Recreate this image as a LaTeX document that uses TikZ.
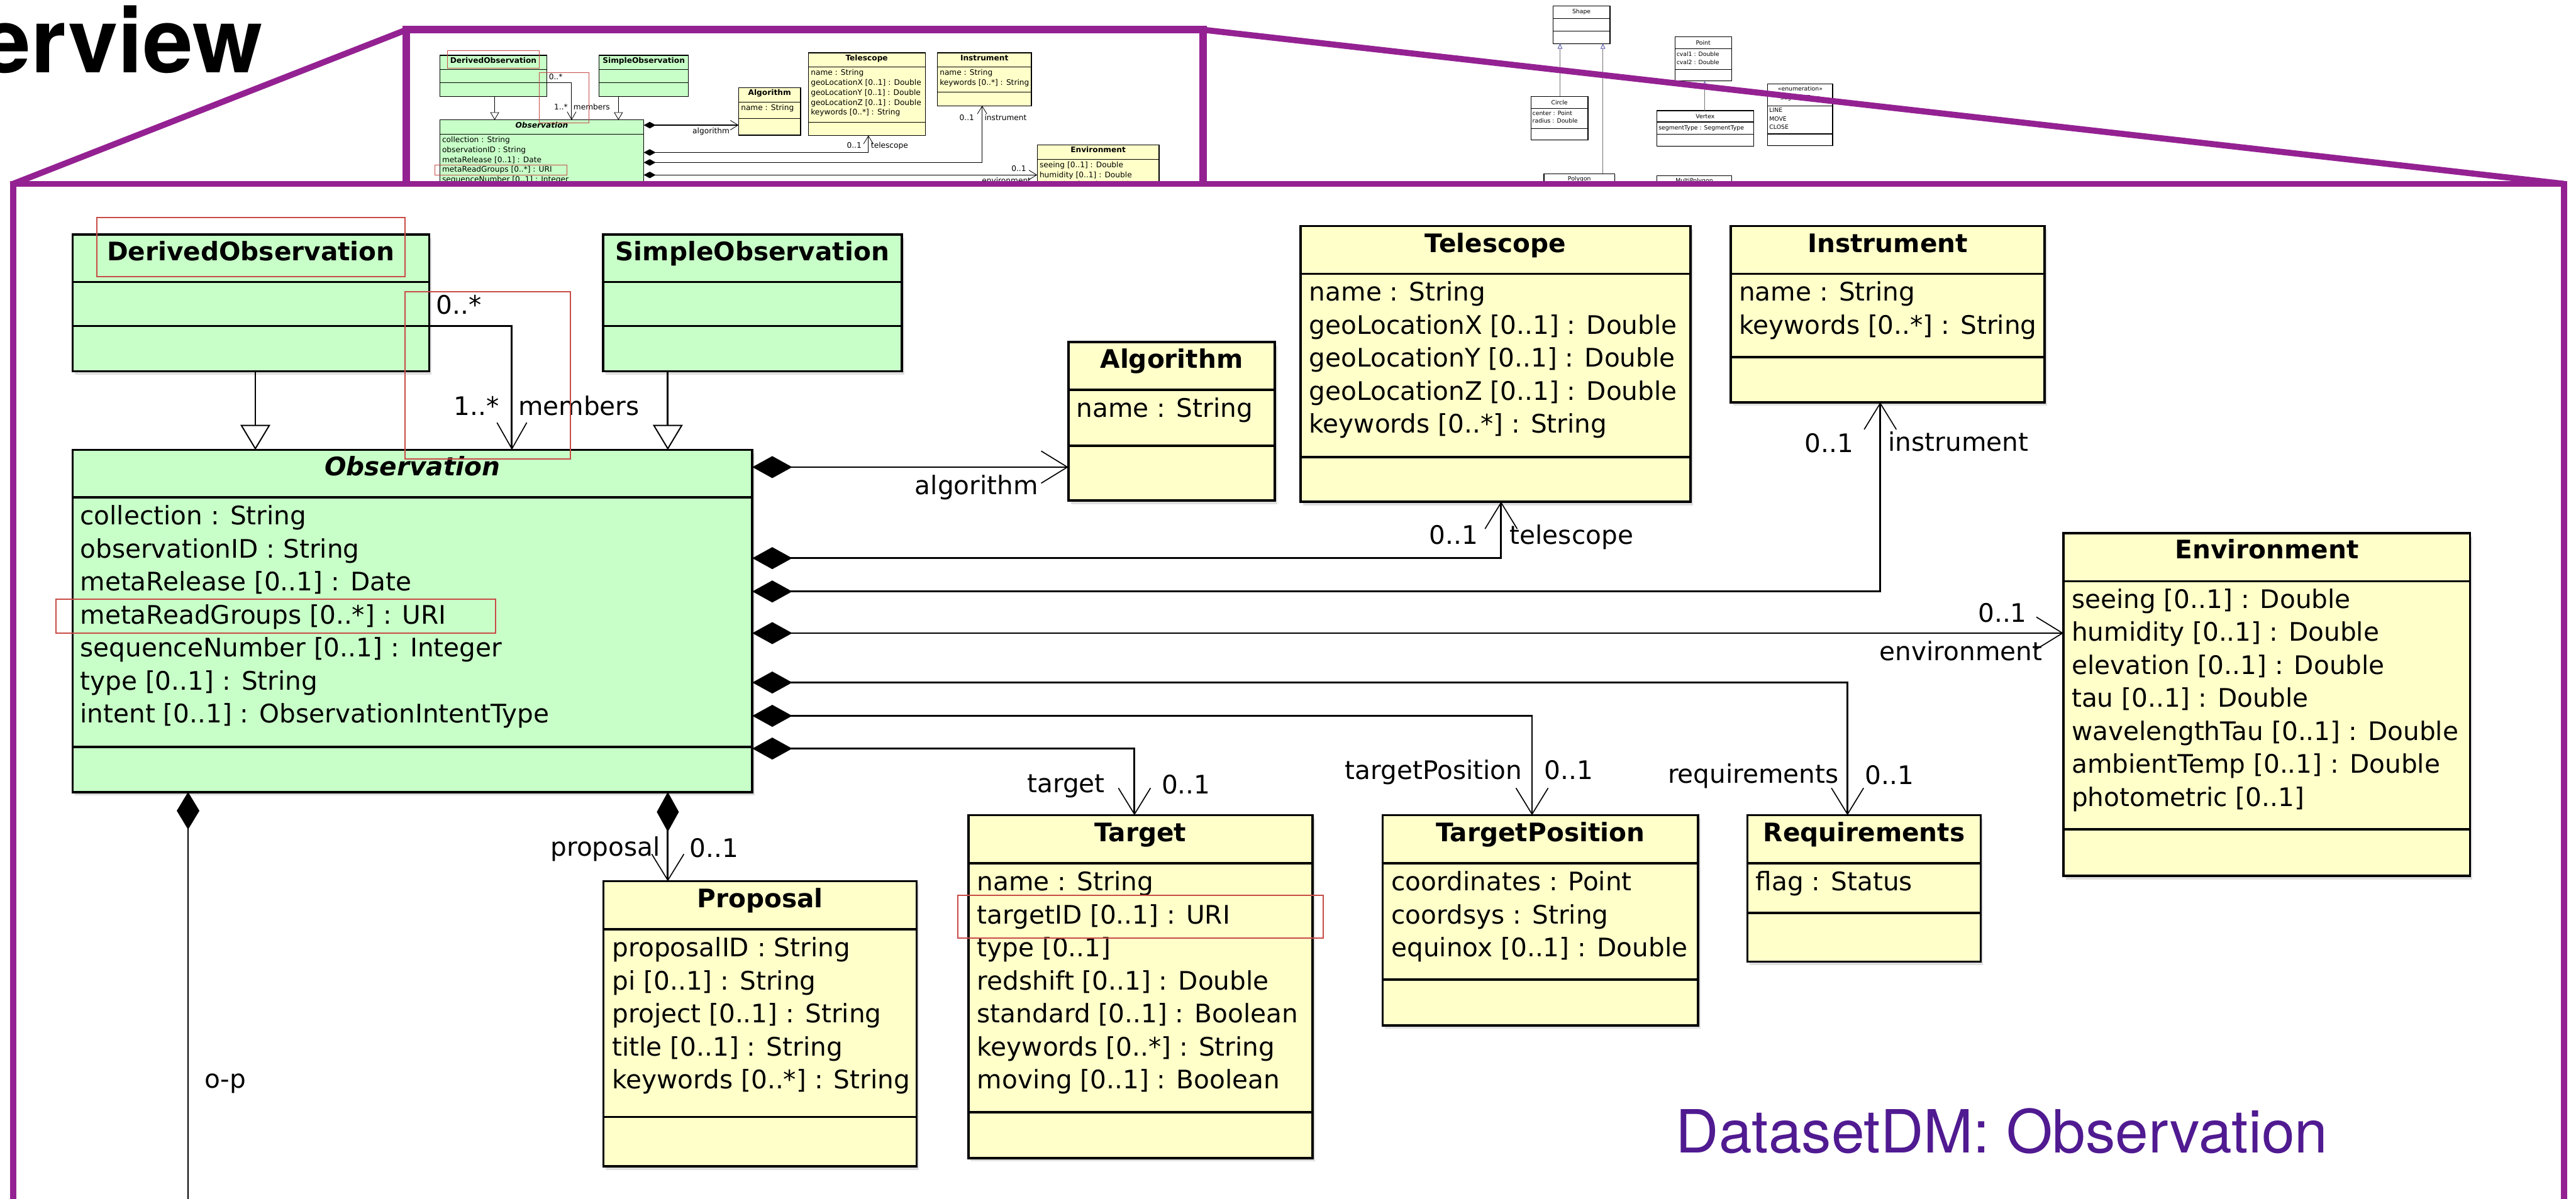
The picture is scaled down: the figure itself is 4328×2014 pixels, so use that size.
\documentclass[tikz,border=0pt]{standalone}
\usepackage{fontspec}
\setmainfont{DejaVu Sans}
\newfontfamily\helv{TeX Gyre Heros}
\usetikzlibrary{arrows.meta,shadows}
\definecolor{umlgreen}{RGB}{200,255,200}
\definecolor{umlyellow}{RGB}{255,255,202}
\definecolor{slidepurple}{RGB}{148,33,146}
\definecolor{captionpurple}{RGB}{80,26,145}
\definecolor{hilite}{RGB}{200,75,70}
\definecolor{genblue}{RGB}{95,95,175}
\newcommand\umlsize{\fontsize{12.2}{14.6}\selectfont}
\newcommand\tinysize{\fontsize{2.8}{3.4}\selectfont}

\newcommand\umlclass[8]{%
  \node[classbox, fill=#6, anchor=north west,
    minimum width={(#4-#2)*0.01cm}, minimum height={(#5-#3)*0.01cm}] (#1) at (#2,#3) {};
  \draw[sepline] (#1.west |- 0,#7) -- (#1.east |- 0,#7);
  \draw[sepline] (#1.west |- 0,#8) -- (#1.east |- 0,#8);
}
\newcommand\smallclass[7]{%
  \node[smallbox, anchor=north west,
    minimum width={(#4-#2)*0.01cm}, minimum height={(#5-#3)*0.01cm}] (#1) at (#2,#3) {};
  \draw[smallsep] (#1.west |- 0,#6) -- (#1.east |- 0,#6);
  \draw[smallsep] (#1.west |- 0,#7) -- (#1.east |- 0,#7);
}
\newcommand\umltitle[4]{\node[umltitle, anchor=base] (#1) at (#2,#3) {#4};}
\newcommand\umlattrs[4]{%
  \foreach \atxt [count=\attrno] in {#4}
    \node[umlattr, anchor=base west] (#1\attrno) at (#2,{#3+(\attrno-1)*55.5}) {\atxt};
}

\newcommand\drawdiagram[1]{%
  % classes
  \umlclass{#1der}{122}{394}{721}{624}{umlgreen}{474}{548}
  \umltitle{#1dert}{421.5}{438}{DerivedObservation}
  \umlclass{#1sim}{1013}{394}{1515}{624}{umlgreen}{474}{548}
  \umltitle{#1simt}{1264}{438}{SimpleObservation}
  \umlclass{#1obs}{122}{756}{1264}{1331}{umlgreen}{836}{1255}
  \node[umltitle, font=\umlsize\bfseries\itshape, anchor=base] (#1obst) at (693,799) {Observation};
  \umlattrs{#1obsa}{134}{882}{collection : String, observationID : String, metaRelease [0..1] : Date, metaReadGroups [0..*] : URI, sequenceNumber [0..1] : Integer, type [0..1] : String, intent [0..1] : ObservationIntentType}
  \umlclass{#1alg}{1795}{575}{2142}{841}{umlyellow}{655}{749}
  \umltitle{#1algt}{1968.5}{619}{Algorithm}
  \umlattrs{#1alga}{1808}{701}{name : String}
  \umlclass{#1tel}{2185}{380}{2840}{843}{umlyellow}{460}{768}
  \umltitle{#1telt}{2512.5}{424}{Telescope}
  \umlattrs{#1tela}{2199}{506}{name : String, geoLocationX [0..1] : Double, geoLocationY [0..1] : Double, geoLocationZ [0..1] : Double, keywords [0..*] : String}
  \umlclass{#1ins}{2908}{380}{3435}{676}{umlyellow}{460}{600}
  \umltitle{#1inst}{3171.5}{424}{Instrument}
  \umlattrs{#1insa}{2921}{506}{name : String, keywords [0..*] : String}
  \umlclass{#1env}{3467}{896}{4150}{1472}{umlyellow}{977}{1394}
  \umltitle{#1envt}{3808.5}{939}{Environment}
  \umlattrs{#1enva}{3480}{1022}{seeing [0..1] : Double, humidity [0..1] : Double, elevation [0..1] : Double, tau [0..1] : Double, wavelengthTau [0..1] : Double, ambientTemp [0..1] : Double, photometric [0..1]}
  \umlclass{#1prop}{1014}{1481}{1540}{1960}{umlyellow}{1562}{1877}
  \umltitle{#1propt}{1277}{1525}{Proposal}
  \umlattrs{#1propa}{1028}{1608}{proposalID : String, pi [0..1] : String, project [0..1] : String, title [0..1] : String, keywords [0..*] : String}
  \umlclass{#1tgt}{1627}{1370}{2205}{1946}{umlyellow}{1451}{1869}
  \umltitle{#1tgtt}{1916}{1414}{Target}
  \umlattrs{#1tgta}{1641}{1497}{name : String, targetID [0..1] : URI, type [0..1], redshift [0..1] : Double, standard [0..1] : Boolean, keywords [0..*] : String, moving [0..1] : Boolean}
  \umlclass{#1tpos}{2323}{1370}{2853}{1723}{umlyellow}{1451}{1646}
  \umltitle{#1tpost}{2588}{1414}{TargetPosition}
  \umlattrs{#1tposa}{2337}{1497}{coordinates : Point, coordsys : String, equinox [0..1] : Double}
  \umlclass{#1req}{2936}{1370}{3328}{1616}{umlyellow}{1451}{1534}
  \umltitle{#1reqt}{3132}{1414}{Requirements}
  \umlattrs{#1reqa}{2949}{1497}{flag : Status}
  % connectors
  \coordinate (#1opend) at (316,2100);
  \draw[comp] (#1obs.east |- 0,785) -- (#1alg.west |- 0,785);
  \draw[comp] (#1obs.east |- 0,938) -| (#1tel.south -| 2522,0);
  \draw[comp] (#1obs.east |- 0,994) -| (#1ins.south -| 3159,0);
  \draw[comp] (#1obs.east |- 0,1064) -- (#1env.west |- 0,1064);
  \draw[comp] (#1obs.east |- 0,1147) -| (#1req.north -| 3104,0);
  \draw[comp] (#1obs.east |- 0,1203) -| (#1tpos.north -| 2574,0);
  \draw[comp] (#1obs.east |- 0,1258) -| (#1tgt.north -| 1906,0);
  \draw[comp] (#1obs.south -| 1122,0) -- (#1prop.north -| 1122,0);
  \draw[compplain] (#1obs.south -| 316,0) -- (#1opend);
  \draw[assoc] (#1der.east |- 0,548) -| (#1obs.north -| 860,0);
  \draw[gen] (#1der.south -| 429,0) -- (#1obs.north -| 429,0);
  \draw[gen] (#1sim.south -| 1122,0) -- (#1obs.north -| 1122,0);
  % labels
  \node[lbl, anchor=base east] (#1lalg) at (1745,831) {algorithm};
  \node[lbl, anchor=base east] (#1ltela) at (2484,915) {0..1};
  \node[lbl, anchor=base west] (#1ltelb) at (2536,915) {telescope};
  \node[lbl, anchor=base east] (#1linsa) at (3115,760) {0..1};
  \node[lbl, anchor=base west] (#1linsb) at (3172,758) {instrument};
  \node[lbl, anchor=base east] (#1lenva) at (3406,1045) {0..1};
  \node[lbl, anchor=base east] (#1lenvb) at (3432,1110) {environment};
  \node[lbl, anchor=base east] (#1lreqa) at (3090,1316) {requirements};
  \node[lbl, anchor=base west] (#1lreqb) at (3133,1318) {0..1};
  \node[lbl, anchor=base east] (#1ltpa) at (2558,1310) {targetPosition};
  \node[lbl, anchor=base west] (#1ltpb) at (2594,1310) {0..1};
  \node[lbl, anchor=base east] (#1ltga) at (1857,1332) {target};
  \node[lbl, anchor=base west] (#1ltgb) at (1951,1334) {0..1};
  \node[lbl, anchor=base east] (#1lpra) at (1110,1439) {proposal};
  \node[lbl, anchor=base west] (#1lprb) at (1158,1441) {0..1};
  \node[lbl, anchor=base west] (#1lop) at (343,1828) {o-p};
  \node[lbl, anchor=base west] (#1lmema) at (732,528) {0..*};
  \node[lbl, anchor=base east] (#1lmemb) at (839,698) {1..*};
  \node[lbl, anchor=base west] (#1lmemc) at (870,698) {members};
  % highlights
  \draw[hl] (163,366) rectangle (680,465);
  \draw[hl] (680,490) rectangle (958,771);
  \draw[hl] (94,1007) rectangle (833,1064);
  \draw[hl] (1609,1505) rectangle (2223,1576);
}

\begin{document}
\begin{tikzpicture}[x=0.01cm, y=-0.01cm,
  classbox/.style={draw=black, line width=1.1pt, inner sep=0pt, outer sep=0pt,
    drop shadow={shadow xshift=0.04cm, shadow yshift=-0.06cm, opacity=0.25}},
  sepline/.style={line width=1.1pt},
  umltitle/.style={inner sep=0pt, font=\umlsize\bfseries},
  umlattr/.style={inner sep=0pt, font=\umlsize},
  lbl/.style={inner sep=0pt, font=\umlsize},
  comp/.style={line width=0.85pt, {Diamond[length=6.7mm,width=3.7mm]}-{Straight Barb[length=4.4mm,width=5.4mm,line width=0.5pt]}},
  compplain/.style={line width=0.85pt, {Diamond[length=6.3mm,width=3.8mm]}-},
  assoc/.style={line width=0.85pt, -{Straight Barb[length=4.4mm,width=5mm,line width=0.5pt]}},
  gen/.style={line width=0.85pt, -{Triangle[length=4.2mm,width=5mm,fill=white,line width=0.6pt]}},
  hl/.style={draw=hilite, line width=0.6pt},
  frameline/.style={draw=slidepurple, line width=2.9pt},
  thumbline/.style={draw=slidepurple, line width=3.6pt},
  smallbox/.style={draw=black, line width=0.35pt, fill=white, inner sep=0pt, outer sep=0pt,
    drop shadow={shadow xshift=0.01cm, shadow yshift=-0.015cm, opacity=0.25}},
  smallsep/.style={line width=0.35pt},
  tinytext/.style={inner sep=0pt, font=\tinysize},
  tinygen/.style={draw=black!55, line width=0.3pt, -{Triangle[open, length=0.9mm, width=0.8mm, color=genblue, line width=0.3pt]}}
]
\useasboundingbox[fill=white] (0,0) rectangle (4328,2014);

% ---- top band: thumbnail of the diagram and neighbouring classes
\begin{scope}
  \clip (0,0) rectangle (4328,305);
  \begin{scope}
    \clip (683,0) rectangle (2021,305);
    \begin{scope}[shift={(702.4,-25.2)}, scale=0.3, transform shape,
      classbox/.style={draw=black, line width=0.35pt, inner sep=0pt, outer sep=0pt},
      sepline/.style={line width=0.35pt},
      comp/.style={line width=0.35pt, {Diamond[length=2mm,width=1.1mm]}-{Straight Barb[length=1.3mm,width=1.6mm,line width=0.25pt]}},
      compplain/.style={line width=0.35pt, {Diamond[length=1.9mm,width=1.1mm]}-},
      assoc/.style={line width=0.3pt, -{Straight Barb[length=1.3mm,width=1.5mm,line width=0.25pt]}},
      gen/.style={line width=0.3pt, -{Triangle[length=1.3mm,width=1.5mm,fill=white,line width=0.25pt]}},
      hl/.style={draw=hilite, line width=0.3pt}]
      \drawdiagram{t}
    \end{scope}
  \end{scope}
  \smallclass{shp}{2609}{10}{2705}{73}{31}{52}
  \node[tinytext, anchor=base] (shpt) at (2657,23) {Shape};
  \smallclass{crc}{2572}{162}{2668}{235}{182}{216}
  \node[tinytext, anchor=base] (crct) at (2620,176) {Circle};
  \node[tinytext, anchor=base west] (crca) at (2574,194) {center : Point};
  \node[tinytext, anchor=base west] (crcb) at (2574,207) {radius : Double};
  \smallclass{pnt}{2814}{62}{2909}{136}{82}{117}
  \node[tinytext, anchor=base] (pntt) at (2861.5,76) {Point};
  \node[tinytext, anchor=base west] (pnta) at (2816,95) {cval1 : Double};
  \node[tinytext, anchor=base west] (pntb) at (2816,108) {cval2 : Double};
  \smallclass{vtx}{2784}{186}{2946}{246}{205}{226}
  \node[tinytext, anchor=base] (vtxt) at (2865,199) {Vertex};
  \node[tinytext, anchor=base west] (vtxa) at (2786,218) {segmentType : SegmentType};
  \smallclass{enm}{2970}{141}{3079}{245}{178}{225}
  \node[tinytext, anchor=base] (enmt) at (3024.5,153) {<<enumeration>>};
  \node[tinytext, anchor=base] (enmn) at (3024.5,167) {SegmentType};
  \node[tinytext, anchor=base west] (enma) at (2972,189) {LINE};
  \node[tinytext, anchor=base west] (enmb) at (2972,203) {MOVE};
  \node[tinytext, anchor=base west] (enmc) at (2972,217) {CLOSE};
  \smallclass{ply}{2594}{292}{2713}{360}{330}{345}
  \node[tinytext, anchor=base] (plyt) at (2653.5,304) {Polygon};
  \smallclass{mpl}{2784}{295}{2909}{360}{330}{345}
  \node[tinytext, anchor=base] (mplt) at (2846.5,307) {MultiPolygon};
  \draw[tinygen] (crc.north -| 2621,0) -- (shp.south -| 2621,0);
  \draw[tinygen] (ply.north -| 2693,0) -- (shp.south -| 2693,0);
  \draw[tinygen] (vtx.north -| 2864,0) -- (pnt.south -| 2864,0);
\end{scope}

% ---- main, enlarged diagram
\drawdiagram{m}

% ---- slide decorations
\draw[thumbline] (683,309) -- (683,50) -- (2021,50) -- (2021,309);
\draw[frameline] (22,2100) -- (22,309) -- (4308,309) -- (4308,2100);
\draw[frameline] (22,309) -- (683,50);
\draw[frameline] (2021,50) -- (4308,309);

\node[anchor=base east, inner sep=0pt, font=\helv\bfseries\fontsize{43}{50}\selectfont] (ttl) at (442,122) {erview};
\node[anchor=base west, inner sep=0pt, text=captionpurple, font=\helv\fontsize{28.45}{34}\selectfont] (cap) at (2815,1937) {DatasetDM: Observation};
\end{tikzpicture}
\end{document}
